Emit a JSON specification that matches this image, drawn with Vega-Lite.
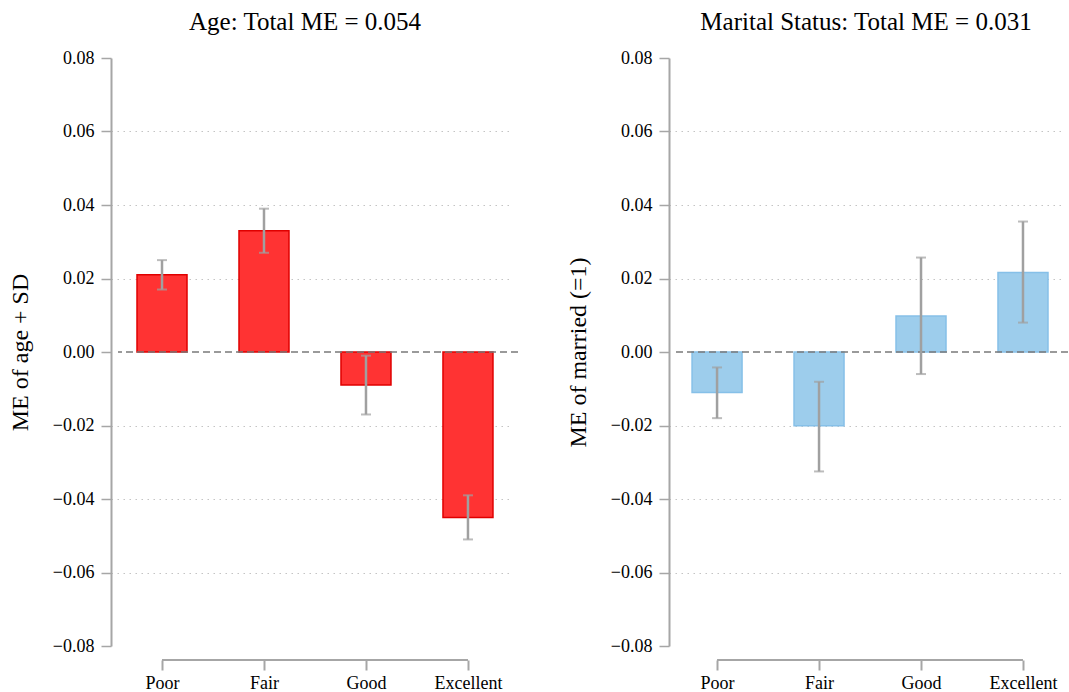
{
  "$schema": "https://vega.github.io/schema/vega-lite/v6.json",
  "padding": {"left": 8, "top": 10, "right": 0, "bottom": 0},
  "background": "white",
  "data": {
    "values": [
      {"panel": "age", "category": "Poor", "me": 0.021, "lo": 0.017, "hi": 0.025},
      {"panel": "age", "category": "Fair", "me": 0.033, "lo": 0.027, "hi": 0.039},
      {"panel": "age", "category": "Good", "me": -0.009, "lo": -0.017, "hi": -0.001},
      {"panel": "age", "category": "Excellent", "me": -0.045, "lo": -0.051, "hi": -0.039},
      {"panel": "married", "category": "Poor", "me": -0.011, "lo": -0.018, "hi": -0.0042},
      {"panel": "married", "category": "Fair", "me": -0.0201, "lo": -0.0325, "hi": -0.0081},
      {"panel": "married", "category": "Good", "me": 0.0098, "lo": -0.006, "hi": 0.0257},
      {"panel": "married", "category": "Excellent", "me": 0.0216, "lo": 0.008, "hi": 0.0355}
    ]
  },
  "spacing": 47,
  "hconcat": [
    {
      "width": 400,
      "height": 588,
      "title": {"text": "Age: Total ME = 0.054", "dx": -13},
      "transform": [{"filter": "datum.panel === 'age'"}],
      "encoding": {
        "x": {
          "field": "category",
          "type": "nominal",
          "sort": ["Poor", "Fair", "Good", "Excellent"],
          "scale": {"type": "point", "padding": 0.461, "align": 0.468},
          "axis": {"title": null}
        }
      },
      "layer": [
        {
          "mark": {"type": "bar", "width": 50, "fill": "#ff3333", "stroke": "#e00000", "strokeWidth": 1.5},
          "encoding": {
            "y": {
              "field": "me",
              "type": "quantitative",
              "scale": {"domain": [-0.08, 0.08], "nice": false},
              "axis": {
                "title": "ME of age + SD",
                "values": [-0.08, -0.06, -0.04, -0.02, 0, 0.02, 0.04, 0.06, 0.08]
              }
            }
          }
        },
        {
          "data": {"values": [{}]},
          "mark": {"type": "rule", "stroke": "#7a7a7a", "strokeWidth": 1.5, "strokeDash": [7, 4]},
          "encoding": {"y": {"datum": 0}, "x": null}
        },
        {
          "data": {"values": [{}]},
          "mark": {"type": "rule", "stroke": "#a6a6a6", "strokeWidth": 2},
          "encoding": {
            "x": {"datum": "Poor", "type": "nominal"},
            "x2": {"datum": "Excellent"},
            "y": {"datum": -0.0838}
          }
        },
        {
          "mark": {"type": "rule", "stroke": "#a0a0a0", "strokeWidth": 2.5},
          "encoding": {"y": {"field": "lo", "type": "quantitative"}, "y2": {"field": "hi"}}
        },
        {
          "mark": {"type": "tick", "color": "#a0a0a0", "size": 10, "thickness": 2, "orient": "horizontal"},
          "encoding": {"y": {"field": "lo", "type": "quantitative"}}
        },
        {
          "mark": {"type": "tick", "color": "#a0a0a0", "size": 10, "thickness": 2, "orient": "horizontal"},
          "encoding": {"y": {"field": "hi", "type": "quantitative"}}
        }
      ]
    },
    {
      "width": 392,
      "height": 588,
      "title": {"text": "Marital Status: Total ME = 0.031", "dx": -6},
      "transform": [{"filter": "datum.panel === 'married'"}],
      "encoding": {
        "x": {
          "field": "category",
          "type": "nominal",
          "sort": ["Poor", "Fair", "Good", "Excellent"],
          "scale": {"type": "point", "padding": 0.422, "align": 0.477},
          "axis": {"title": null}
        }
      },
      "layer": [
        {
          "mark": {"type": "bar", "width": 50, "fill": "#9dcdec", "stroke": "#86c0e8", "strokeWidth": 1.5},
          "encoding": {
            "y": {
              "field": "me",
              "type": "quantitative",
              "scale": {"domain": [-0.08, 0.08], "nice": false},
              "axis": {
                "title": "ME of married (=1)",
                "values": [-0.08, -0.06, -0.04, -0.02, 0, 0.02, 0.04, 0.06, 0.08]
              }
            }
          }
        },
        {
          "data": {"values": [{}]},
          "mark": {"type": "rule", "stroke": "#7a7a7a", "strokeWidth": 1.5, "strokeDash": [7, 4]},
          "encoding": {"y": {"datum": 0}, "x": null}
        },
        {
          "data": {"values": [{}]},
          "mark": {"type": "rule", "stroke": "#a6a6a6", "strokeWidth": 2},
          "encoding": {
            "x": {"datum": "Poor", "type": "nominal"},
            "x2": {"datum": "Excellent"},
            "y": {"datum": -0.0838}
          }
        },
        {
          "mark": {"type": "rule", "stroke": "#a0a0a0", "strokeWidth": 2.5},
          "encoding": {"y": {"field": "lo", "type": "quantitative"}, "y2": {"field": "hi"}}
        },
        {
          "mark": {"type": "tick", "color": "#a0a0a0", "size": 10, "thickness": 2, "orient": "horizontal"},
          "encoding": {"y": {"field": "lo", "type": "quantitative"}}
        },
        {
          "mark": {"type": "tick", "color": "#a0a0a0", "size": 10, "thickness": 2, "orient": "horizontal"},
          "encoding": {"y": {"field": "hi", "type": "quantitative"}}
        }
      ]
    }
  ],
  "config": {
    "font": "Liberation Serif",
    "view": {"stroke": null},
    "title": {
      "font": "Liberation Serif",
      "fontSize": 25,
      "fontWeight": "normal",
      "color": "black",
      "anchor": "middle",
      "offset": 14
    },
    "axisY": {
      "format": ".2f",
      "offset": 7,
      "domainColor": "#a6a6a6",
      "domainWidth": 2,
      "tickColor": "#a6a6a6",
      "tickWidth": 1.5,
      "tickSize": 10,
      "labelPadding": 7,
      "labelFont": "Liberation Serif",
      "labelFontSize": 18,
      "labelColor": "black",
      "titleFont": "Liberation Serif",
      "titleFontSize": 24,
      "titleFontWeight": "normal",
      "titleColor": "black",
      "titlePadding": 20,
      "grid": true,
      "gridColor": "#c4c4c4",
      "gridWidth": 1.2,
      "gridDash": [1.5, 4.5],
      "gridOpacity": {"condition": {"test": "datum.value === 0 || abs(datum.value) > 0.07", "value": 0}, "value": 1}
    },
    "axisX": {
      "offset": 14,
      "domain": false,
      "grid": false,
      "tickColor": "#a6a6a6",
      "tickWidth": 2,
      "tickSize": 10,
      "labelAngle": 0,
      "labelPadding": 4,
      "labelFont": "Liberation Serif",
      "labelFontSize": 18,
      "labelColor": "black"
    }
  }
}
